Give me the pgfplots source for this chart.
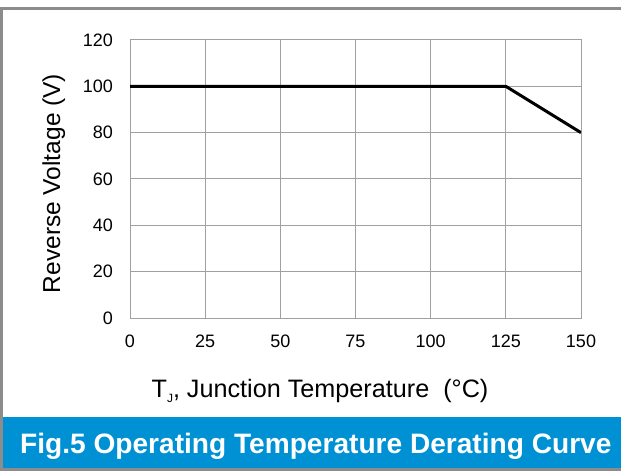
\documentclass[border=0pt]{standalone}
\usepackage{fontspec}
\setmainfont{Liberation Sans}
\usepackage{pgfplots}
\pgfplotsset{compat=1.18}
\definecolor{banner}{HTML}{0091D5}
\definecolor{framegray}{HTML}{8C8C8C}
\definecolor{gridgray}{HTML}{A0A0A0}
\begin{document}
\begin{tikzpicture}[x=1pt,y=1pt]
\useasboundingbox (0,0) rectangle (621,474);
\fill[white] (0,0) rectangle (621,474);
\fill[banner] (3,6) rectangle (621,57);
\draw[framegray, line width=2.6pt] (1.5,4) -- (1.5,466.8);
\draw[framegray, line width=2.6pt] (0.2,465.5) -- (621,465.5);
\draw[framegray, line width=2.6pt] (0.2,4.3) -- (621,4.3);
\node[anchor=base west, text=white, font=\fontsize{28.1}{33}\selectfont\bfseries, inner sep=0pt] at (20,21) {Fig.5 Operating Temperature Derating Curve};
\begin{axis}[
  at={(130pt,156pt)}, anchor=south west,
  scale only axis, width=451pt, height=278pt,
  xmin=0, xmax=150, ymin=0, ymax=120,
  xtick={0,25,...,150}, ytick={0,20,...,120},
  grid=major,
  major grid style={gridgray, line width=1pt},
  axis line style={gridgray, line width=1pt},
  major tick length=0pt,
  /pgf/number format/assume math mode=true,
  tick label style={font=\fontsize{18}{21}\selectfont, inner sep=0pt},
  yticklabel style={anchor=east, xshift=-17pt},
  xticklabel style={anchor=north, yshift=-17pt},
  xlabel={T\raisebox{-5pt}{\fontsize{12}{12}\selectfont J}, Junction Temperature~~(°C)},
  ylabel={Reverse Voltage (V)},
  label style={inner sep=0pt},
  xlabel style={font=\fontsize{25.2}{29}\selectfont, at={(axis description cs:0.4213,-0.2842)}, anchor=base},
  ylabel style={font=\fontsize{24.5}{28}\selectfont, at={(axis description cs:-0.1552,0.4838)}, anchor=base},
]
\addplot[black, line width=3pt, line join=round] coordinates {(0,100) (125,100) (150,80)};
\end{axis}
\end{tikzpicture}
\end{document}
